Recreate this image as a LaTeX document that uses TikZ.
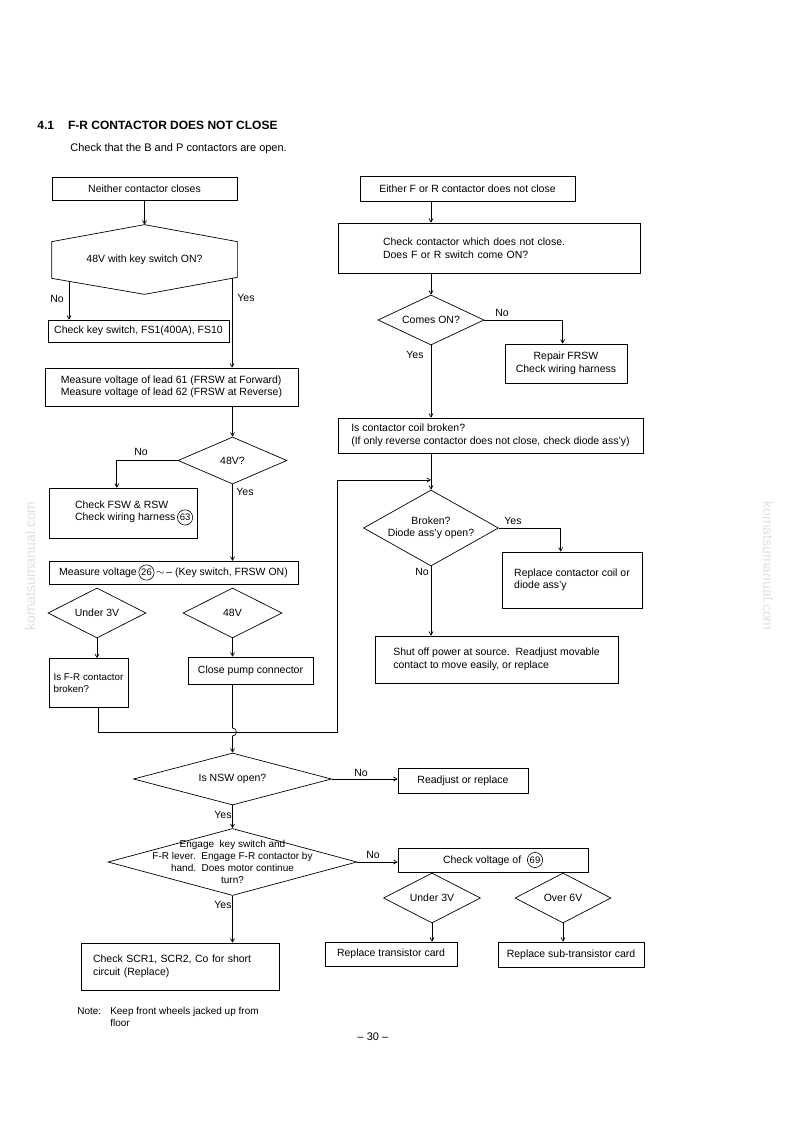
\documentclass[tikz,border=0pt]{standalone}
\usepackage{fontspec}
\setmainfont{Liberation Sans}
\usetikzlibrary{shapes.geometric,arrows.meta}
\newcommand\fs{\fontsize{10.5}{12.5}\selectfont}
\newcommand\circnum[1]{\tikz[baseline=(cn.base)]\node[draw, circle, inner sep=1pt, minimum width=0pt, minimum height=0pt, line width=0.6pt, font=\fontsize{9.5}{9.5}\selectfont] (cn) {#1};}

\begin{document}
\begin{tikzpicture}[x=1pt, y=-1pt, line width=0.7pt,
    box/.style={draw, rectangle, inner sep=2pt, align=center, font=\fs},
    dia/.style={draw, diamond, inner sep=0pt},
    dtxt/.style={align=center, font=\fs},
    yn/.style={font=\fs, inner sep=1pt},
    arr/.style={-{Straight Barb[length=3.5pt,width=4pt]}},
    wm/.style={text=black!12, font=\fontsize{14}{14}\selectfont}]

    \useasboundingbox (0,0) rectangle (794,1124);

    \node[anchor=base west, inner sep=0pt, font=\bfseries\fontsize{12}{14}\selectfont] (title) at (37,129) {4.1\hspace{14pt}F-R CONTACTOR DOES NOT CLOSE};
    \node[anchor=base west, inner sep=0pt, font=\fontsize{11}{13}\selectfont] (intro) at (70,151) {Check that the B and P contactors are open.};

    % left branch
    \node[box, minimum width=185pt, minimum height=23pt] (neither) at (144.5,188.5) {Neither contactor closes};
    \node[minimum width=185pt, minimum height=69pt, inner sep=0pt, font=\fs] (keyon) at (144.5,259.5) {48V with key switch ON?};
    \draw ([yshift=-17pt]keyon.north west) -- (keyon.north) -- ([yshift=-17pt]keyon.north east) -- ([yshift=17pt]keyon.south east) -- (keyon.south) -- ([yshift=16pt]keyon.south west) -- cycle;
    \node[box, minimum width=181pt, minimum height=22pt] (fuses) at (138.5,331) {Check key switch, FS1(400A), FS10};
    \node[box, align=left, minimum width=253pt, minimum height=38pt] (lead) at (171.5,387) {Measure voltage of lead 61 (FRSW at Forward)\\Measure voltage of lead 62 (FRSW at Reverse)};
    \node[dia, minimum width=109pt, minimum height=47pt, label={[dtxt]center:48V?}] (v48) at (232.5,460.5) {};
    \node[box, align=left, minimum width=148pt, minimum height=50pt] (fsw) at (123,513) {\hspace*{22pt}Check FSW \& RSW\\\hspace*{22pt}Check wiring harness\,\circnum{63}};
    \node[box, minimum width=249pt, minimum height=23pt] (meas) at (173.5,572.5) {Measure voltage\,\circnum{26}\,$\sim$\,-- (Key switch, FRSW ON)};
    \node[dia, minimum width=98pt, minimum height=50pt, label={[dtxt]center:Under 3V}] (lo3) at (97,613) {};
    \node[dia, minimum width=99pt, minimum height=50pt, label={[dtxt]center:48V}] (hi48) at (232.5,613) {};
    \node[box, align=left, minimum width=79pt, minimum height=49pt, font=\fontsize{9.8}{12}\selectfont] (frbrk) at (88.5,683) {Is F-R contactor\\broken?};
    \node[box, minimum width=125pt, minimum height=27pt] (pump) at (250.5,670.5) {Close pump connector};

    % right branch
    \node[box, minimum width=215pt, minimum height=25pt] (either) at (467.5,188.5) {Either F or R contactor does not close};
    \node[box, align=left, text width=212pt, inner xsep=45pt, minimum height=50pt] (which) at (489,248) {Check contactor which does not close.\\Does F or R switch come ON?};
    \node[dia, minimum width=106pt, minimum height=50pt, label={[dtxt]center:Comes ON?}] (comes) at (431,320) {};
    \node[box, minimum width=122pt, minimum height=39pt] (repair) at (566,363.5) {Repair FRSW\\Check wiring harness};
    \node[box, align=left, minimum width=305pt, minimum height=35pt] (coil) at (490.5,435.5) {Is contactor coil broken?\\(If only reverse contactor does not close, check diode ass'y)};
    \node[dia, minimum width=135pt, minimum height=76pt, label={[dtxt]center:{Broken?\\Diode ass'y open?}}] (broken) at (431,528) {};
    \node[box, align=left, minimum width=140pt, minimum height=56pt] (replcoil) at (572,580) {Replace contactor coil or\\diode ass'y};
    \node[box, align=left, minimum width=243pt, minimum height=47pt] (shutoff) at (496.5,659.5) {Shut off power at source.\ \ Readjust movable\\contact to move easily, or replace};

    % lower part
    \node[dia, minimum width=198pt, minimum height=52pt, label={[dtxt]center:Is NSW open?}] (nsw) at (232.5,779) {};
    \node[box, minimum width=130pt, minimum height=25pt] (readj) at (463,780.5) {Readjust or replace};
    \node[dia, minimum width=249pt, minimum height=67pt, label={[dtxt, font=\fontsize{10}{12}\selectfont]center:{Engage\ \ key switch and\\F-R lever.\ \ Engage F-R contactor by\\hand.\ \ Does motor continue\\turn?}}] (engage) at (232.5,862) {};
    \node[box, minimum width=190pt, minimum height=24pt] (chk69) at (493,860) {Check voltage of\ \ \circnum{69}};
    \node[dia, minimum width=97pt, minimum height=50pt, label={[dtxt]center:Under 3V}] (lo3b) at (432,898) {};
    \node[dia, minimum width=96pt, minimum height=50pt, label={[dtxt]center:Over 6V}] (ov6) at (563,898) {};
    \node[box, minimum width=132pt, minimum height=24pt] (trcard) at (391,954) {Replace transistor card};
    \node[box, minimum width=146pt, minimum height=25pt] (subcard) at (571,954.5) {Replace sub-transistor card};
    \node[box, align=left, text width=174pt, inner xsep=12pt, minimum height=47pt] (scr) at (180,966.5) {Check SCR1, SCR2, Co for short\\circuit (Replace)};

    \node[anchor=north west, align=left, inner sep=0pt, font=\fontsize{10}{11.5}\selectfont] (note) at (77,1007) {Note:\hspace{9pt}Keep front wheels jacked up from\\\hspace*{33pt}floor};
    \node[font=\fontsize{11}{13}\selectfont] (page) at (373,1037) {-- 30 --};

    \coordinate (keyno) at (69,282);
    \coordinate (keyyes) at (232,278);
    \coordinate (joinpt) at (431,480);

    \draw[arr] (neither.south) -- (keyon.north);
    \draw[arr] (keyno) -- (keyno |- fuses.north);
    \draw[arr] (keyyes) -- (keyyes |- lead.north);
    \draw[arr] (v48.north |- lead.south) -- (v48.north);
    \draw[arr] (v48.west) -| ([xshift=68pt]fsw.north west);
    \draw[arr] (v48.south) -- (v48.south |- meas.north);
    \draw[arr] (lo3.south) -- (lo3.south |- frbrk.north);
    \draw[arr] (hi48.south) -- (hi48.south |- pump.north);
    \draw[arr] ([xshift=10pt]frbrk.south) -- ++(0,24.5) -| (337,480) -- (joinpt);
    \draw[arr] (nsw.north |- pump.south) -- (232.5,728) .. controls (237.8,728) and (237.8,736) .. (232.5,736) -- (nsw.north);

    \draw[arr] (comes.north |- either.south) -- (comes.north |- which.north);
    \draw[arr] (comes.north |- which.south) -- (comes.north);
    \draw[arr] (comes.east) -| ([xshift=58pt]repair.north west);
    \draw[arr] (comes.south) -- (comes.south |- coil.north);
    \draw[arr] (broken.north |- coil.south) -- (broken.north);
    \draw[arr] (broken.east) -| ([xshift=59pt]replcoil.north west);
    \draw[arr] (broken.south) -- (broken.south |- shutoff.north);

    \draw[arr] (nsw.east) -- (nsw.east -| readj.west);
    \draw[arr] (nsw.south) -- (engage.north);
    \draw[arr] (engage.east) -- (engage.east -| chk69.west);
    \draw[arr] (engage.south) -- (engage.south |- scr.north);
    \draw[arr] (lo3b.south) -- (lo3b.south |- trcard.north);
    \draw[arr] (ov6.south) -- (ov6.south |- subcard.north);

    \foreach \lx/\ly/\lt [count=\i] in {57/299/No, 246/298/Yes, 141/452/No, 245/492/Yes, 502/313/No, 415/355/Yes, 513/521/Yes, 422/572/No, 361/773/No, 223/815/Yes, 373/855/No, 223/905/Yes}
        \node[yn] (yn\i) at (\lx,\ly) {\lt};

    \foreach \wx/\wr [count=\i] in {30/90, 768/-90}
        \node[wm, rotate=\wr] (wm\i) at (\wx,566) {komatsumanual.com};
\end{tikzpicture}
\end{document}
